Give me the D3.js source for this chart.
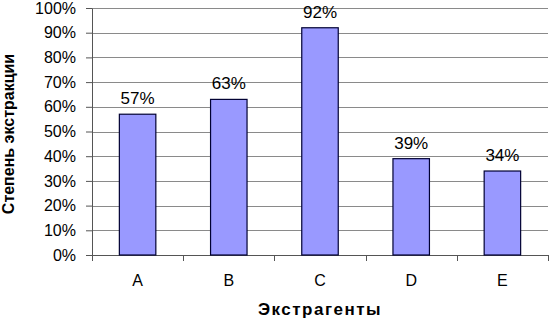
<!DOCTYPE html>
<html>
<head>
<meta charset="utf-8">
<script src="https://cdn.jsdelivr.net/npm/d3@7"></script>
<style>
  body { margin:0; background:#fff; }
  svg { display:block; font-family:"Liberation Sans", Arial, sans-serif; }
</style>
</head>
<body>
<div id="chart"></div>
<script>
var categories = ["A", "B", "C", "D", "E"];
var values = [0.57, 0.63, 0.92, 0.39, 0.34];
var yTicks = [0, 0.1, 0.2, 0.3, 0.4, 0.5, 0.6, 0.7, 0.8, 0.9, 1.0];

var W = 549, H = 319;
var margin = { left:92, right:1, top:8, bottom:64 };
var w = W - margin.left - margin.right;
var h = H - margin.top - margin.bottom;

var svg = d3.select("#chart").append("svg")
    .attr("width", W)
    .attr("height", H);

var g = svg.append("g")
    .attr("transform", "translate(" + margin.left + "," + margin.top + ")");

var xScale = d3.scaleBand()
    .domain(categories)
    .range([0, w])
    .paddingInner(0.6)
    .paddingOuter(0.3);

var yScale = d3.scaleLinear()
    .domain([0, 1])
    .range([h, 0]);

// gridlines
g.selectAll(".grid")
    .data(yTicks.slice(1))
    .enter().append("line")
    .attr("class", "grid")
    .attr("x1", 0)
    .attr("x2", w)
    .attr("y1", function(d) { return Math.round(yScale(d)) + 0.5; })
    .attr("y2", function(d) { return Math.round(yScale(d)) + 0.5; })
    .attr("stroke", "#8a8a8a")
    .attr("stroke-width", 1);

// y axis
var yAxis = d3.axisLeft(yScale)
    .tickValues(yTicks)
    .tickFormat(d3.format(".0%"))
    .tickSize(6)
    .tickSizeOuter(0)
    .tickPadding(10);

var yAxisGroup = g.append("g")
    .attr("class", "y axis")
    .call(yAxis);
yAxisGroup.select(".domain").attr("stroke", "#555");
yAxisGroup.selectAll("line").attr("stroke", "#555");
yAxisGroup.selectAll("text")
    .attr("font-size", 16)
    .attr("fill", "#000");

// x axis: ticks between categories like Excel
var xAxisGroup = g.append("g")
    .attr("class", "x axis")
    .attr("transform", "translate(0," + h + ")");

xAxisGroup.append("line")
    .attr("x1", 0).attr("x2", w)
    .attr("y1", 0.5).attr("y2", 0.5)
    .attr("stroke", "#555");

var step = xScale.step();
xAxisGroup.selectAll(".sep")
    .data(d3.range(categories.length + 1))
    .enter().append("line")
    .attr("class", "sep")
    .attr("x1", function(i) { return Math.round(i * step) + 0.5; })
    .attr("x2", function(i) { return Math.round(i * step) + 0.5; })
    .attr("y1", 0)
    .attr("y2", 6)
    .attr("stroke", "#555");

xAxisGroup.selectAll(".cat")
    .data(categories)
    .enter().append("text")
    .attr("class", "cat")
    .attr("x", function(d) { return xScale(d) + xScale.bandwidth() / 2; })
    .attr("y", 31)
    .attr("text-anchor", "middle")
    .attr("font-size", 16)
    .text(function(d) { return d; });

// bars
g.selectAll(".bar")
    .data(values)
    .enter().append("rect")
    .attr("class", "bar")
    .attr("x", function(d, i) { return xScale(categories[i]); })
    .attr("y", function(d) { return yScale(d); })
    .attr("width", xScale.bandwidth())
    .attr("height", function(d) { return h - yScale(d); })
    .attr("fill", "#9999ff")
    .attr("stroke", "#000033")
    .attr("stroke-width", 1.2);

// value labels
g.selectAll(".val")
    .data(values)
    .enter().append("text")
    .attr("class", "val")
    .attr("x", function(d, i) { return xScale(categories[i]) + xScale.bandwidth() / 2; })
    .attr("y", function(d) { return yScale(d) - 10; })
    .attr("text-anchor", "middle")
    .attr("font-size", 17)
    .text(function(d) { return Math.round(d * 100) + "%"; });

// axis titles
svg.append("text")
    .attr("x", margin.left + w / 2)
    .attr("y", 315)
    .attr("text-anchor", "middle")
    .attr("font-size", 17)
    .attr("font-weight", "bold")
    .attr("letter-spacing", 1.5)
    .text("Экстрагенты");

svg.append("text")
    .attr("transform", "translate(14,134) rotate(-90)")
    .attr("text-anchor", "middle")
    .attr("font-size", 16)
    .attr("font-weight", "bold")
    .text("Степень экстракции");
</script>
</body>
</html>
